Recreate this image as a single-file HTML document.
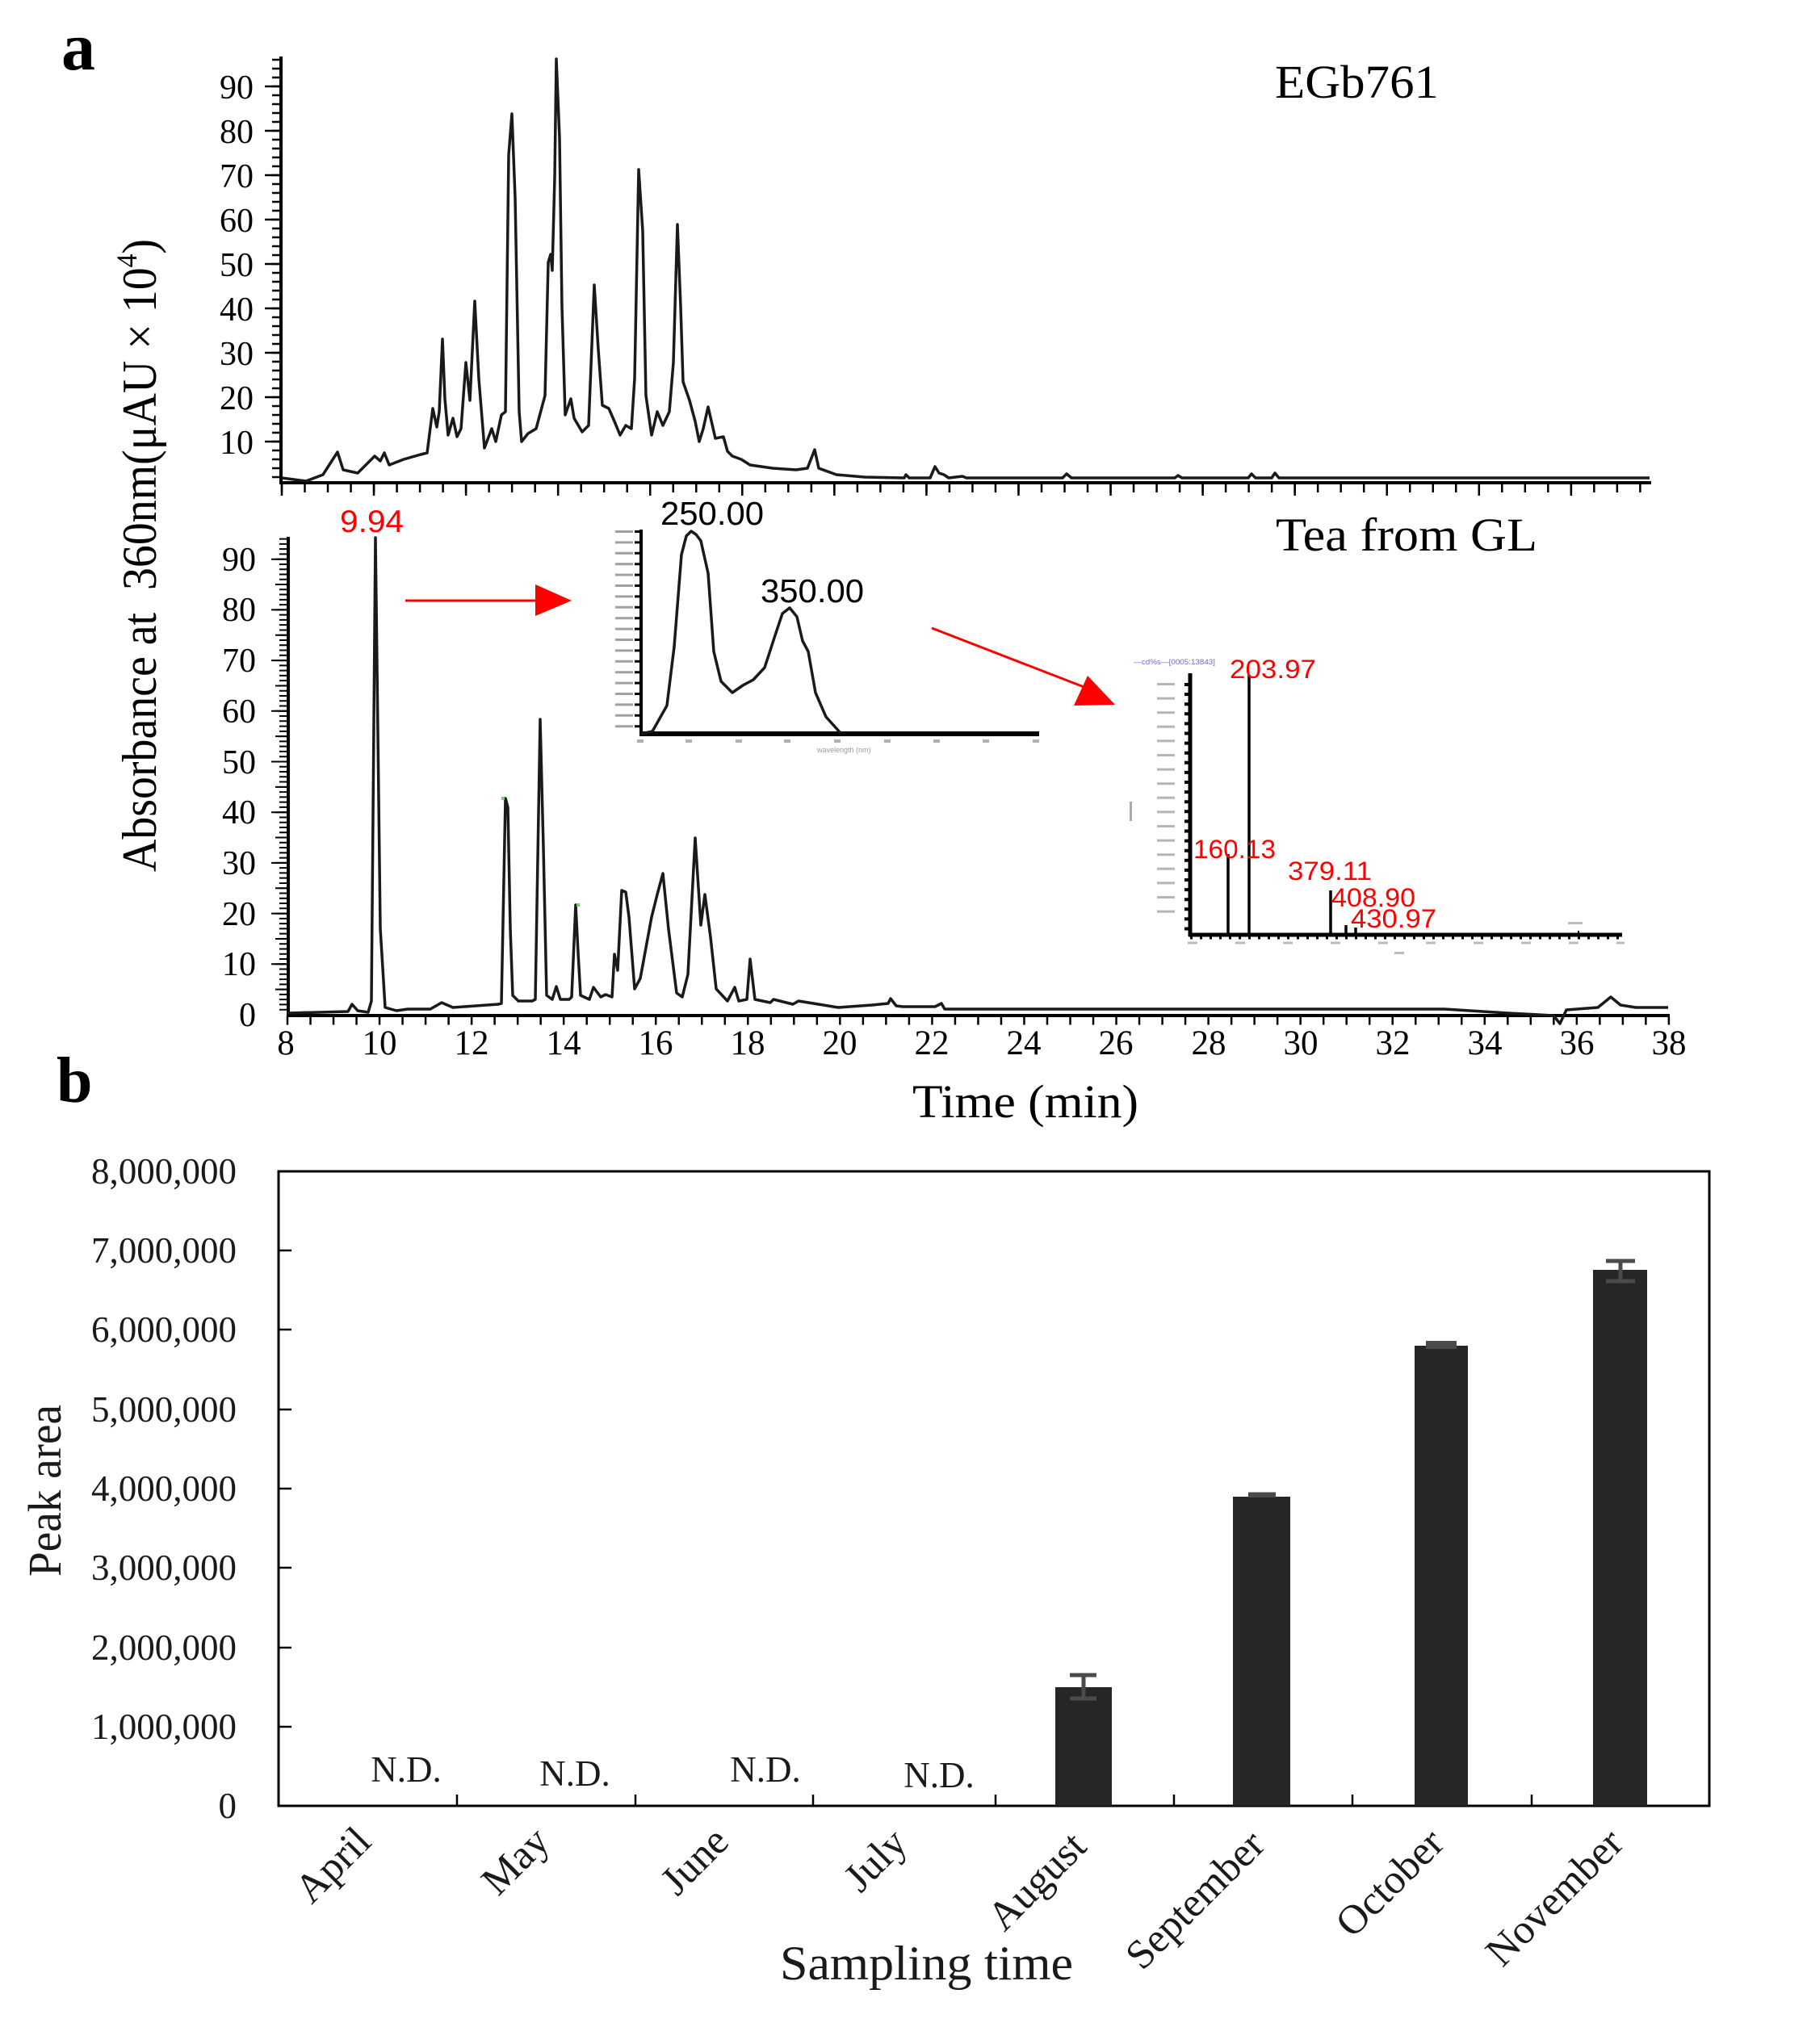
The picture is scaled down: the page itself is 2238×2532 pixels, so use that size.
<!DOCTYPE html>
<html><head><meta charset="utf-8"><style>html,body{margin:0;padding:0;background:#fff}svg{display:block}</style></head><body>
<svg width="2238" height="2532" viewBox="0 0 2238 2532" xmlns="http://www.w3.org/2000/svg" font-family="'Liberation Serif', serif">
<rect width="2238" height="2532" fill="#fff"/>
<!-- Panel labels -->
<text x="76" y="86" font-size="84" font-weight="bold">a</text>
<text x="70" y="1365" font-size="80" font-weight="bold">b</text>

<!-- Y label chart a -->
<text transform="translate(193,1080) rotate(-90)" font-size="60" textLength="784" lengthAdjust="spacingAndGlyphs">Absorbance at &#160;360nm(μAU × 10<tspan dy="-24" font-size="36">4</tspan><tspan dy="24">)</tspan></text>

<!-- ===== TOP CHROMATOGRAM ===== -->
<g stroke="#000" fill="none">
<line x1="348" y1="70" x2="348" y2="599" stroke-width="4"/>
<line x1="346" y1="598" x2="2045" y2="598" stroke-width="4"/>
<path d="M342.5 592.25 V70" stroke-width="11" stroke-dasharray="2.5 8.5"/>
<path d="M338 548.25 V70" stroke-width="20" stroke-dasharray="2.5 52.5"/>
<path d="M347.75 604 H2046" stroke-width="12" stroke-dasharray="2.5 26.015"/>
<path d="M347.75 606 H2046" stroke-width="16" stroke-dasharray="2.5 111.56"/>
</g>
<g font-size="42" text-anchor="end">
<text x="314" y="562">10</text><text x="314" y="507">20</text><text x="314" y="452">30</text><text x="314" y="397">40</text><text x="314" y="342">50</text><text x="314" y="287">60</text><text x="314" y="232">70</text><text x="314" y="177">80</text><text x="314" y="122">90</text>
</g>
<path fill="none" stroke="#1a1a1a" stroke-width="3.5" stroke-linejoin="round" d="M349,592 L379,596 L400,588 L418,560 L425,582 L443,586 L464,565 L471,571 L476,561 L482,576 L500,569 L521,563 L529,561 L536,506 L541,529 L544,510 L548,420 L551,494 L555,539 L561,518 L566,541 L571,531 L577,449 L582,496 L588,373 L593,469 L600,555 L609,531 L614,547 L621,514 L626,510 L630,192 L634,141 L638,245 L643,510 L646,547 L654,537 L664,531 L675,490 L679,325 L682,315 L684,335 L687,220 L689,73 L693,171 L696,380 L700,514 L707,494 L711,518 L721,535 L729,527 L736,353 L741,433 L746,502 L754,506 L761,522 L768,539 L775,527 L782,531 L786,469 L791,210 L796,286 L800,490 L807,539 L814,510 L821,527 L829,510 L834,449 L839,278 L843,380 L846,473 L854,496 L861,522 L866,547 L871,531 L877,504 L886,543 L896,541 L901,559 L907,565 L918,569 L929,576 L957,580 L986,582 L1000,580 L1009,557 L1014,580 L1036,588 L1071,591 L1120,592 L1122,588 L1126,592 L1152,592 L1158,578 L1163,586 L1169,588 L1175,592 L1192,590 L1197,592 L1316,592 L1321,587 L1327,592 L1455,592 L1459,589 L1464,592 L1546,592 L1550,587 L1555,592 L1575,592 L1579,586 L1584,592 L2043,592"/>
<text x="1579" y="121" font-size="58" textLength="203" lengthAdjust="spacingAndGlyphs">EGb761</text>

<!-- ===== BOTTOM CHROMATOGRAM ===== -->
<g stroke="#000" fill="none">
<line x1="357" y1="665" x2="357" y2="1260" stroke-width="4"/>
<line x1="355" y1="1258" x2="2068" y2="1258" stroke-width="4"/>
<path d="M351.5 1251.7 V666" stroke-width="11" stroke-dasharray="2 4.27"/>
<path d="M349 1226.65 V666" stroke-width="16" stroke-dasharray="2 29.35"/>
<path d="M346.5 1195.3 V666" stroke-width="21" stroke-dasharray="2 60.7"/>
<path d="M354.75 1264 H2069" stroke-width="11" stroke-dasharray="2.5 26.015"/>
</g>
<g font-size="42" text-anchor="end">
<text x="317" y="1271">0</text><text x="317" y="1208">10</text><text x="317" y="1146">20</text><text x="317" y="1083">30</text><text x="317" y="1020">40</text><text x="317" y="958">50</text><text x="317" y="895">60</text><text x="317" y="832">70</text><text x="317" y="769">80</text><text x="317" y="707">90</text>
</g>
<g font-size="43" text-anchor="middle">
<text x="354" y="1306">8</text><text x="470" y="1306">10</text><text x="584" y="1306">12</text><text x="698" y="1306">14</text><text x="812" y="1306">16</text><text x="926" y="1306">18</text><text x="1040" y="1306">20</text><text x="1154" y="1306">22</text><text x="1268" y="1306">24</text><text x="1382" y="1306">26</text><text x="1497" y="1306">28</text><text x="1611" y="1306">30</text><text x="1725" y="1306">32</text><text x="1839" y="1306">34</text><text x="1953" y="1306">36</text><text x="2067" y="1306">38</text>
</g>
<text x="1130" y="1384" font-size="58" textLength="280" lengthAdjust="spacingAndGlyphs">Time (min)</text>
<path fill="none" stroke="#1a1a1a" stroke-width="3.5" stroke-linejoin="round" d="M356,1255 L431,1253 L436,1244 L443,1252 L456,1254 L460,1240 L465,666 L471,1150 L477,1248 L491,1252 L505,1250 L533,1250 L547,1242 L561,1248 L617,1244 L621,1243 L626,989 L629,1000 L632,1150 L635,1233 L642,1240 L659,1240 L663,1238 L669,891 L673,1050 L677,1233 L684,1238 L689,1222 L694,1238 L705,1238 L708,1235 L713,1121 L716,1180 L719,1233 L730,1238 L735,1223 L744,1235 L750,1232 L758,1235 L761,1182 L765,1202 L770,1103 L775,1105 L779,1136 L786,1225 L793,1212 L807,1136 L814,1108 L821,1082 L828,1151 L838,1230 L845,1235 L852,1207 L861,1038 L868,1146 L873,1108 L880,1161 L887,1225 L901,1240 L910,1223 L915,1240 L925,1238 L929,1188 L935,1238 L954,1242 L958,1238 L982,1244 L989,1240 L1038,1248 L1080,1245 L1100,1243 L1103,1237 L1110,1246 L1118,1247 L1158,1247 L1166,1243 L1170,1250 L1789,1250 L1868,1255 L1924,1258 L1932,1268 L1940,1251 L1979,1248 L1995,1235 L2007,1245 L2026,1248 L2066,1248"/>
<rect x="621" y="987" width="4" height="4" fill="#7c7"/>
<rect x="714" y="1119" width="4" height="4" fill="#7c7"/>
<text x="1580" y="682" font-size="58" textLength="324" lengthAdjust="spacingAndGlyphs">Tea from GL</text>
<text x="421" y="659" font-size="39" fill="#f00" font-family="'Liberation Sans', sans-serif" textLength="79" lengthAdjust="spacingAndGlyphs">9.94</text>

<!-- red arrows -->
<line x1="502" y1="744" x2="665" y2="744" stroke="#f00" stroke-width="3"/>
<polygon points="663,724 708,744 663,763" fill="#f00"/>
<line x1="1154" y1="778" x2="1345" y2="852" stroke="#f00" stroke-width="3"/>
<polygon points="1347,837 1330,874 1381,873" fill="#f00"/>

<!-- UV inset -->
<g fill="none">
<path d="M773 657 V910" stroke="#a0a0a0" stroke-width="22" stroke-dasharray="3 10.4"/>
<path d="M790 657 V910" stroke="#000" stroke-width="8" stroke-dasharray="3 10.4"/>
<line x1="794" y1="656" x2="794" y2="912" stroke="#000" stroke-width="4"/>
<line x1="792" y1="909" x2="1287" y2="909" stroke="#000" stroke-width="6"/>
<path d="M794,909 L808,906 L826,874 L835,801 L844,687 L850,664 L856,658 L862,662 L868,670 L877,710 L884,807 L893,844 L907,858 L920,849 L933,842 L947,827 L960,787 L969,760 L978,753 L987,764 L994,794 L1001,807 L1010,858 L1023,888 L1041,908" stroke="#1a1a1a" stroke-width="3.5" stroke-linejoin="round"/>
</g>
<g fill="#b0b0b0">
<rect x="789" y="916" width="8" height="4"/><rect x="849" y="916" width="8" height="4"/><rect x="911" y="916" width="8" height="4"/><rect x="971" y="916" width="8" height="4"/><rect x="1033" y="916" width="8" height="4"/><rect x="1095" y="916" width="8" height="4"/><rect x="1156" y="916" width="8" height="4"/><rect x="1217" y="916" width="8" height="4"/><rect x="1279" y="916" width="8" height="4"/>
</g>
<text x="1012" y="932" font-size="9" fill="#999" font-family="'Liberation Sans', sans-serif">wavelength (nm)</text>
<text x="818" y="650" font-size="41" font-family="'Liberation Sans', sans-serif" textLength="128" lengthAdjust="spacingAndGlyphs">250.00</text>
<text x="942" y="746" font-size="41" font-family="'Liberation Sans', sans-serif" textLength="128" lengthAdjust="spacingAndGlyphs">350.00</text>

<!-- MS inset -->
<text x="1404" y="823" font-size="9" fill="#6b6bc8" font-family="'Liberation Sans', sans-serif" textLength="101" lengthAdjust="spacingAndGlyphs">—cd%s—[0005:13843]</text>
<g fill="none">
<path d="M1444 846 V1142" stroke="#b5b5b5" stroke-width="22" stroke-dasharray="3 14.6"/>
<path d="M1471 846 V1156" stroke="#000" stroke-width="8" stroke-dasharray="4 8.1"/>
<line x1="1474" y1="834" x2="1474" y2="1160" stroke="#000" stroke-width="5"/>
<line x1="1472" y1="1158" x2="2009" y2="1158" stroke="#000" stroke-width="5"/>
<path d="M1474 1162 H2009" stroke="#000" stroke-width="3" stroke-dasharray="3 9"/>
<path d="M1471 1168 H2012" stroke="#bbb" stroke-width="3" stroke-dasharray="12 47"/>
<g stroke="#000" stroke-width="3.5">
<line x1="1521" y1="1158" x2="1521" y2="1058"/>
<line x1="1547" y1="1158" x2="1547" y2="836"/>
<line x1="1648" y1="1158" x2="1648" y2="1103"/>
<line x1="1667" y1="1158" x2="1667" y2="1146"/>
<line x1="1679" y1="1158" x2="1679" y2="1149"/>
<line x1="1955" y1="1158" x2="1955" y2="1153" stroke-width="2"/>
</g>
</g>
<rect x="1942" y="1142" width="18" height="3" fill="#bbb"/>
<rect x="1399" y="993" width="3" height="24" fill="#aaa"/>
<rect x="1727" y="1179" width="12" height="3" fill="#bbb"/>
<g fill="#f00" font-size="32" font-family="'Liberation Sans', sans-serif">
<text x="1523" y="840" textLength="107" lengthAdjust="spacingAndGlyphs">203.97</text>
<text x="1478" y="1063" textLength="102" lengthAdjust="spacingAndGlyphs">160.13</text>
<text x="1595" y="1090" textLength="104" lengthAdjust="spacingAndGlyphs">379.11</text>
<text x="1649" y="1123" textLength="104" lengthAdjust="spacingAndGlyphs">408.90</text>
<text x="1673" y="1149" textLength="106" lengthAdjust="spacingAndGlyphs">430.97</text>
</g>

<!-- ===== BAR CHART ===== -->
<rect x="345" y="1451" width="1772" height="786" fill="none" stroke="#000" stroke-width="3"/>
<g stroke="#000" stroke-width="2.5">
<line x1="345" y1="1549" x2="361" y2="1549"/><line x1="345" y1="1647" x2="361" y2="1647"/><line x1="345" y1="1746" x2="361" y2="1746"/><line x1="345" y1="1844" x2="361" y2="1844"/><line x1="345" y1="1942" x2="361" y2="1942"/><line x1="345" y1="2041" x2="361" y2="2041"/><line x1="345" y1="2139" x2="361" y2="2139"/>
<line x1="566" y1="2237" x2="566" y2="2223"/><line x1="787" y1="2237" x2="787" y2="2223"/><line x1="1007" y1="2237" x2="1007" y2="2223"/><line x1="1233" y1="2237" x2="1233" y2="2223"/><line x1="1454" y1="2237" x2="1454" y2="2223"/><line x1="1675" y1="2237" x2="1675" y2="2223"/><line x1="1897" y1="2237" x2="1897" y2="2223"/>
</g>
<g font-size="45" text-anchor="end" fill="#1a1a1a">
<text x="293" y="1466">8,000,000</text><text x="293" y="1564">7,000,000</text><text x="293" y="1662">6,000,000</text><text x="293" y="1761">5,000,000</text><text x="293" y="1859">4,000,000</text><text x="293" y="1957">3,000,000</text><text x="293" y="2056">2,000,000</text><text x="293" y="2154">1,000,000</text><text x="293" y="2252">0</text>
</g>
<text transform="translate(75,1953) rotate(-90)" font-size="58" fill="#1a1a1a" textLength="213" lengthAdjust="spacingAndGlyphs">Peak area</text>
<g fill="#262626">
<rect x="1307" y="2090" width="70" height="147"/>
<rect x="1527" y="1854" width="71" height="383"/>
<rect x="1752" y="1667" width="66" height="570"/>
<rect x="1973" y="1573" width="67" height="664"/>
</g>
<g stroke="#4a4a4a" stroke-width="5" fill="none">
<path d="M1342 2075 V2104 M1325 2075 H1358 M1325 2104 H1358"/>
<path d="M1546 1851 H1580"/>
<path d="M1766 1666 H1804"/>
<path d="M2007 1562 V1587 M1989 1562 H2025 M1989 1587 H2025"/>
</g>
<rect x="1766" y="1661" width="38" height="10" fill="#4a4a4a"/>
<rect x="1546" y="1849" width="34" height="6" fill="#4a4a4a"/>
<g font-size="45" text-anchor="middle" fill="#1a1a1a">
<text x="503" y="2207">N.D.</text><text x="712" y="2212">N.D.</text><text x="948" y="2207">N.D.</text><text x="1163" y="2214">N.D.</text>
</g>
<g font-size="51" text-anchor="end" fill="#1a1a1a">
<text transform="translate(462,2284) rotate(-45)">April</text>
<text transform="translate(683,2284) rotate(-45)">May</text>
<text transform="translate(905,2284) rotate(-45)">June</text>
<text transform="translate(1126,2286) rotate(-45)">July</text>
<text transform="translate(1348,2290) rotate(-45)">August</text>
<text transform="translate(1569,2288) rotate(-45)">September</text>
<text transform="translate(1791,2286) rotate(-45)">October</text>
<text transform="translate(2013,2286) rotate(-45)">November</text>
</g>
<text x="966" y="2452" font-size="60" fill="#1a1a1a" textLength="363" lengthAdjust="spacingAndGlyphs">Sampling time</text>
</svg>
</body></html>
